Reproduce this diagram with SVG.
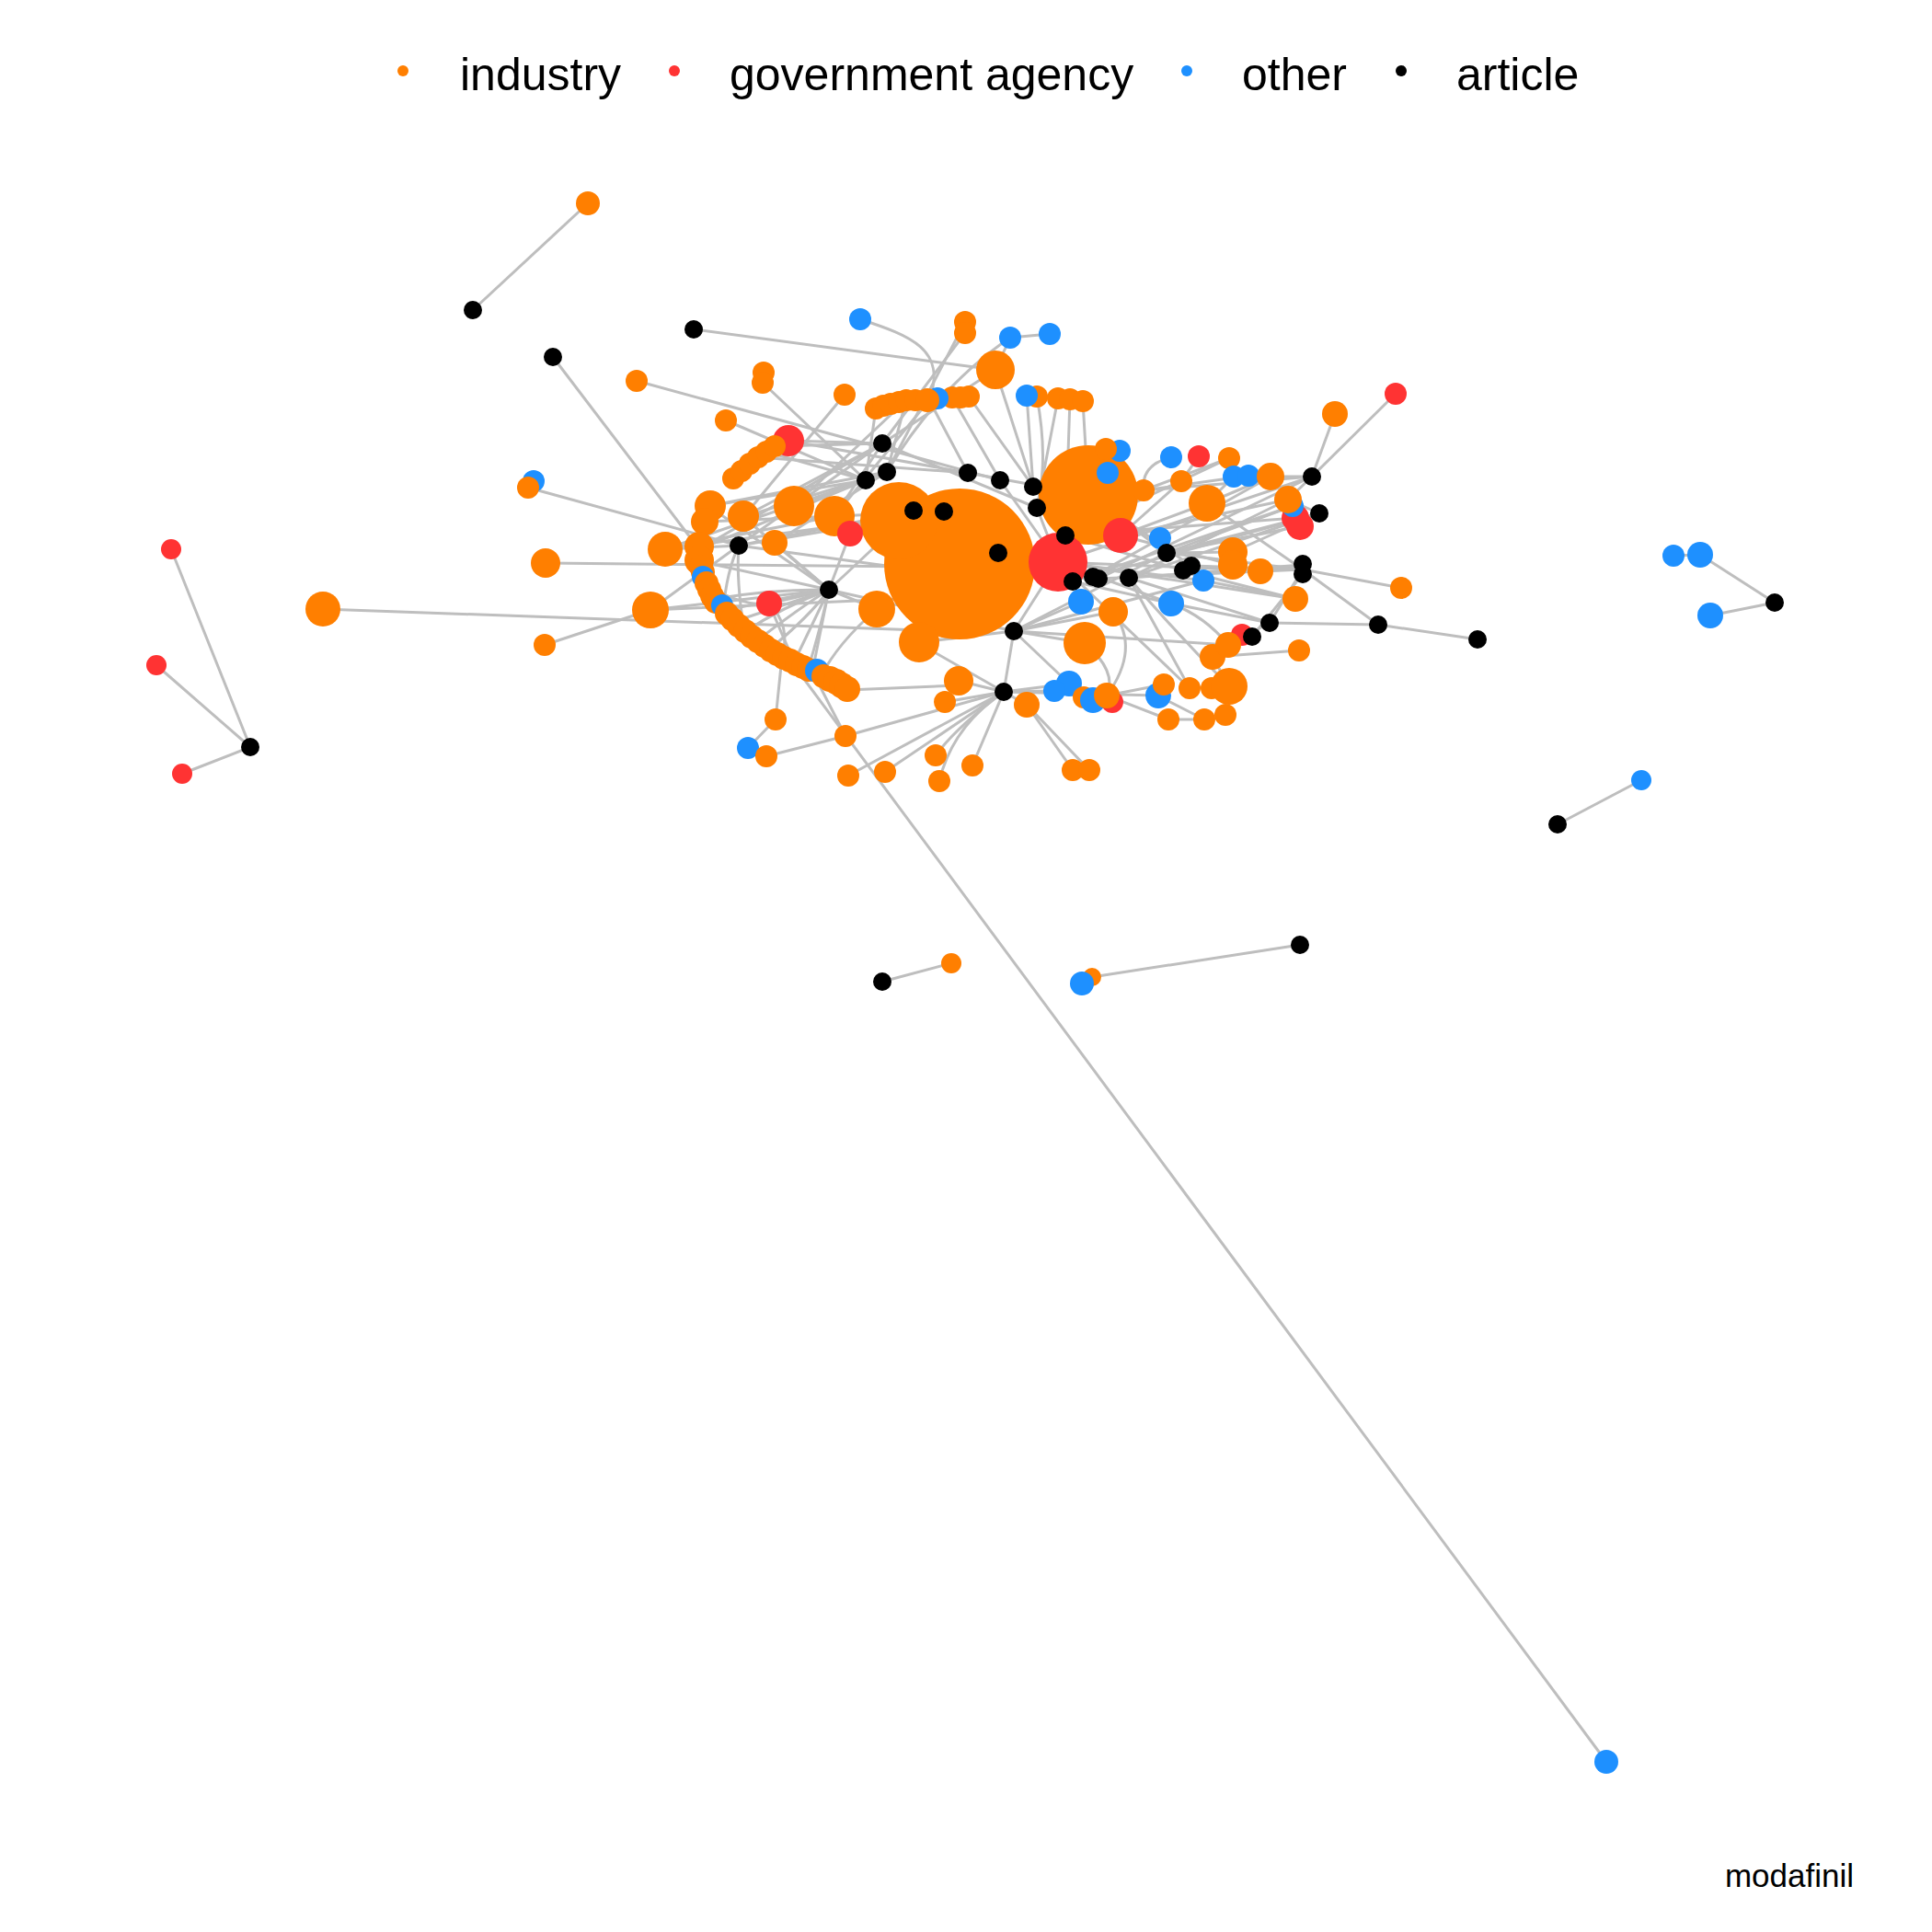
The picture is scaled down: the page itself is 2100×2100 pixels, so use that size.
<svg xmlns="http://www.w3.org/2000/svg" width="2100" height="2100" viewBox="0 0 2100 2100">
<style>
.e path{stroke:#bebebe;stroke-width:3;fill:none;stroke-linecap:round}
.ind{fill:#ff7f00}.gov{fill:#ff3333}.oth{fill:#1e90ff}.art{fill:#000}
text{font-family:"Liberation Sans",Arial,sans-serif;fill:#000}
.lg{font-size:50px}
</style>
<rect width="2100" height="2100" fill="#fff"/>
<g id="legend">
<circle cx="438" cy="77" r="6" class="ind"/><text class="lg" x="500" y="98">industry</text>
<circle cx="733" cy="77" r="6" class="gov"/><text class="lg" x="793" y="98">government agency</text>
<circle cx="1290" cy="77" r="6" class="oth"/><text class="lg" x="1350" y="98">other</text>
<circle cx="1523" cy="77" r="6" class="art"/><text class="lg" x="1583" y="98">article</text>
</g>
<g id="edges" class="e">
<path d="M639,221L514,337"/><path d="M186,597L272,812"/><path d="M170,723L272,812"/><path d="M198,841L272,812"/>
<path d="M1819,604L1848,603"/><path d="M1848,603L1929,655"/><path d="M1859,669L1929,655"/><path d="M1784,848L1693,896"/>
<path d="M1034,1047L959,1067"/><path d="M1413,1027L1187,1062"/><path d="M1746,1915L862,722"/>
<path d="M601,388L760,597"/><path d="M351,662L1000,685"/><path d="M593,612L1000,616"/><path d="M592,701L707,663"/>
<path d="M574,530L803,593"/><path d="M754,358L1082,402"/><path d="M692,414L1087,522"/><path d="M789,457L941,522"/>
<path d="M829,416L941,522"/><path d="M918,429L808,562"/><path d="M1517,428L1426,518"/><path d="M1451,450L1426,518"/>
<path d="M1416,619L1523,639"/><path d="M1416,619L1498,679"/><path d="M1380,677L1498,679"/><path d="M1498,679L1606,695"/>
<path d="M935,347C990,365 1030,380 1010,435"/><path d="M1049,362L959,482"/><path d="M1049,350L964,513"/>
<path d="M1098,367L1141,363"/><path d="M1098,367L1082,402"/><path d="M1098,367Q1020,420 964,513"/>
<path d="M1082,402L959,482"/><path d="M1116,430L1123,529"/><path d="M1127,431Q1140,500 1127,552"/>
<path d="M1010,435L1052,514"/><path d="M1035,432L1087,522"/><path d="M1053,431L1123,529"/><path d="M985,435L964,513"/>
<path d="M952,444L941,522"/><path d="M1150,433L1127,552"/><path d="M1163,434L1158,582"/><path d="M1177,436L1183,538"/>
<path d="M842,485L959,482"/><path d="M833,491L941,522"/><path d="M824,497L1052,514"/><path d="M857,479L1052,514"/>
<path d="M863,550L959,482"/><path d="M907,561L959,482"/><path d="M857,479L959,482"/><path d="M1082,402L1123,529"/>
<path d="M863,550L964,513"/><path d="M808,562L964,513"/><path d="M770,550L964,513"/><path d="M770,550L941,522"/>
<path d="M863,550L941,522"/><path d="M723,597L941,522"/><path d="M1052,514L1183,538"/><path d="M1087,522L1150,611"/>
<path d="M1123,529L1183,538"/><path d="M1127,552L1150,611"/><path d="M1127,552L959,482"/><path d="M863,550L985,435"/>
<path d="M907,561L1010,435"/>
<path d="M723,597L803,593"/><path d="M707,663L803,593"/><path d="M707,663L901,641"/><path d="M760,597L941,522"/>
<path d="M760,597L959,482"/><path d="M770,550L901,641"/><path d="M808,562L959,482"/><path d="M808,562L901,641"/>
<path d="M842,590L901,641"/><path d="M842,590L964,513"/><path d="M803,593L863,550"/><path d="M803,593L1000,620"/>
<path d="M836,656L901,641"/><path d="M953,662L901,641"/><path d="M901,641L862,722"/><path d="M901,641L924,580"/>
<path d="M901,641L883,730"/><path d="M901,641L1102,686"/><path d="M901,641L993,555"/><path d="M803,593L993,555"/>
<path d="M803,593L1026,556"/><path d="M723,597L1026,556"/><path d="M707,663L1000,650"/><path d="M760,610L901,641"/>
<path d="M768,567L1026,556"/><path d="M723,597L907,561"/>
<path d="M776,651Q840,640 901,641"/><path d="M786,664Q850,650 901,641"/><path d="M797,676Q860,655 901,641"/>
<path d="M809,687Q850,660 901,641"/><path d="M822,697Q870,660 901,641"/><path d="M836,706Q880,670 901,641"/>
<path d="M850,714Q860,680 836,656"/><path d="M864,721Q850,690 836,656"/><path d="M769,637Q810,660 836,656"/>
<path d="M878,728Q890,690 901,641"/><path d="M893,734Q910,700 953,662"/><path d="M921,750L1042,745"/>
<path d="M786,664Q790,620 803,593"/><path d="M809,687Q800,630 803,593"/>
<path d="M850,714L843,782"/><path d="M843,782L813,813"/><path d="M833,822L919,800"/><path d="M919,800L1091,752"/>
<path d="M919,800L883,730"/><path d="M962,839L1091,752"/><path d="M1017,821Q1040,790 1091,752"/><path d="M1021,849Q1035,790 1091,752"/>
<path d="M1057,832L1091,752"/><path d="M922,843L1091,752"/><path d="M1027,763L1091,752"/><path d="M1042,740L1091,752"/>
<path d="M1091,752L1116,766"/><path d="M1091,752L1146,751"/><path d="M1091,752L1162,743"/><path d="M1091,752L1102,686"/>
<path d="M1091,752L1000,700"/><path d="M1091,752L1259,756"/><path d="M1116,766L1166,837"/><path d="M1116,766L1184,837"/>
<path d="M1102,686L1179,699"/><path d="M1102,686L1210,665"/><path d="M1102,686L1335,701"/><path d="M1102,686L1162,743"/>
<path d="M1102,686L1000,698"/><path d="M1102,686L1150,611"/><path d="M1210,665Q1240,705 1203,756"/><path d="M1179,699Q1215,730 1203,756"/>
<path d="M1227,628Q1280,690 1336,746"/><path d="M1227,628L1293,748"/><path d="M1203,756L1270,782"/><path d="M1203,756L1265,744"/>
<path d="M1309,782L1270,782"/><path d="M1309,782L1332,777"/><path d="M1268,601L1340,600"/><path d="M1268,601L1405,550"/>
<path d="M1268,601L1416,619"/><path d="M1295,615L1370,620"/><path d="M1295,615L1416,619"/><path d="M1286,620L1408,651"/>
<path d="M1308,631L1408,651"/><path d="M1273,656L1380,677"/><path d="M1273,656Q1310,670 1335,701"/><path d="M1380,677L1416,619"/>
<path d="M1361,692L1416,624"/><path d="M1412,707L1318,714"/><path d="M1336,746L1318,714"/><path d="M1380,677L1335,701"/>
<path d="M1102,686L1175,654"/><path d="M1146,751L1178,758"/><path d="M1258,756L1309,782"/>
<path d="M1273,497Q1240,505 1243,533"/><path d="M1303,496L1284,523"/><path d="M1284,523L1218,582"/><path d="M1341,518L1312,547"/>
<path d="M1381,518L1312,547"/><path d="M1400,543L1227,628"/><path d="M1400,543L1218,582"/><path d="M1426,518L1150,611"/>
<path d="M1434,558L1268,601"/><path d="M1413,572L1268,601"/><path d="M1408,563L1158,582"/><path d="M1312,547L1416,619"/>
<path d="M1150,611L1273,656"/><path d="M1150,611L1308,631"/><path d="M1150,611L1370,620"/><path d="M1218,582L1340,614"/>
<path d="M1158,582L1286,620"/><path d="M1166,632L1273,656"/><path d="M1194,629L1416,619"/><path d="M1227,628L1380,677"/>
<path d="M1183,538L1268,601"/><path d="M1183,538L1295,615"/><path d="M1243,533L1336,498"/><path d="M1243,533L1357,517"/>
<path d="M1426,518L1381,518"/><path d="M1434,558L1400,543"/><path d="M1426,518L1400,543"/><path d="M1434,558L1340,600"/>
<path d="M1312,547L1218,582"/><path d="M1150,611L1408,651"/><path d="M1426,518L1194,629"/><path d="M1434,558L1187,627"/>
<path d="M1416,614L1226,628"/>
<path d="M1158,582L1336,498"/><path d="M1187,627L1381,518"/><path d="M1166,632L1405,550"/><path d="M1227,628L1434,558"/>
<path d="M1243,533L1426,518"/><path d="M1102,686L1268,601"/><path d="M1102,686L1308,631"/><path d="M1150,611L1293,748"/>
</g>
<g id="nodes">
<g id="n64" class="ind"><circle cx="1043" cy="613" r="82"/></g>
<g id="n65" class="ind"><circle cx="977" cy="566" r="42"/></g>
<g id="n66" class="ind"><circle cx="999" cy="698" r="22"/></g>
<g id="n76" class="ind"><circle cx="953" cy="662" r="20"/></g>
<g id="n80" class="ind"><circle cx="1183" cy="538" r="54"/></g>
<g id="n1" class="ind"><circle cx="639" cy="221" r="13"/></g>
<g id="n4" class="gov"><circle cx="186" cy="597" r="11"/></g>
<g id="n5" class="gov"><circle cx="170" cy="723" r="11"/></g>
<g id="n6" class="gov"><circle cx="198" cy="841" r="11"/></g>
<g id="n8" class="ind"><circle cx="351" cy="662" r="19"/></g>
<g id="n9" class="oth"><circle cx="1819" cy="604" r="12"/></g>
<g id="n10" class="oth"><circle cx="1848" cy="603" r="14"/></g>
<g id="n11" class="oth"><circle cx="1859" cy="669" r="14"/></g>
<g id="n13" class="oth"><circle cx="1784" cy="848" r="11"/></g>
<g id="n15" class="ind"><circle cx="1034" cy="1047" r="11"/></g>
<g id="n18" class="ind"><circle cx="1187" cy="1062" r="10"/></g>
<g id="n19" class="oth"><circle cx="1176" cy="1069" r="13"/></g>
<g id="n20" class="oth"><circle cx="1746" cy="1915" r="13"/></g>
<g id="n22" class="oth"><circle cx="935" cy="347" r="12"/></g>
<g id="n23" class="ind"><circle cx="1049" cy="350" r="12"/></g>
<g id="n24" class="ind"><circle cx="1049" cy="362" r="12"/></g>
<g id="n25" class="oth"><circle cx="1098" cy="367" r="12"/></g>
<g id="n26" class="oth"><circle cx="1141" cy="363" r="12"/></g>
<g id="n27" class="ind"><circle cx="1082" cy="402" r="21"/></g>
<g id="n28" class="ind"><circle cx="1127" cy="431" r="12"/></g>
<g id="n29" class="oth"><circle cx="1116" cy="430" r="12"/></g>
<g id="n30" class="ind"><circle cx="1150" cy="433" r="12"/></g>
<g id="n31" class="ind"><circle cx="1163" cy="434" r="12"/></g>
<g id="n32" class="ind"><circle cx="1177" cy="436" r="12"/></g>
<g id="n33" class="ind"><circle cx="692" cy="414" r="12"/></g>
<g id="n34" class="ind"><circle cx="830" cy="405" r="12"/></g>
<g id="n35" class="ind"><circle cx="829" cy="416" r="12"/></g>
<g id="n36" class="ind"><circle cx="918" cy="429" r="12"/></g>
<g id="n37" class="ind"><circle cx="952" cy="444" r="12"/></g>
<g id="n37b" class="ind"><circle cx="960" cy="441" r="12"/></g>
<g id="n38" class="ind"><circle cx="968" cy="439" r="12"/></g>
<g id="n38b" class="ind"><circle cx="977" cy="437" r="12"/></g>
<g id="n39" class="ind"><circle cx="985" cy="435" r="12"/></g>
<g id="n39b" class="ind"><circle cx="995" cy="435" r="12"/></g>
<g id="n42" class="ind"><circle cx="1035" cy="432" r="12"/></g>
<g id="n43" class="ind"><circle cx="1053" cy="431" r="12"/></g>
<g id="n43b" class="ind"><circle cx="1044" cy="432" r="12"/></g>
<g id="n41" class="oth"><circle cx="1019" cy="433" r="12"/></g>
<g id="n40" class="ind"><circle cx="1008" cy="435" r="13"/></g>
<g id="n44" class="ind"><circle cx="789" cy="457" r="12"/></g>
<g id="n45" class="gov"><circle cx="857" cy="479" r="17"/></g>
<g id="n46" class="ind"><circle cx="797" cy="520" r="12"/></g>
<g id="n47" class="ind"><circle cx="806" cy="512" r="12"/></g>
<g id="n48" class="ind"><circle cx="815" cy="504" r="12"/></g>
<g id="n49" class="ind"><circle cx="824" cy="497" r="12"/></g>
<g id="n50" class="ind"><circle cx="833" cy="491" r="12"/></g>
<g id="n51" class="ind"><circle cx="842" cy="485" r="12"/></g>
<g id="n59" class="ind"><circle cx="772" cy="550" r="17"/></g>
<g id="n60" class="ind"><circle cx="766" cy="567" r="15"/></g>
<g id="n61" class="ind"><circle cx="808" cy="561" r="17"/></g>
<g id="n62" class="ind"><circle cx="863" cy="550" r="22"/></g>
<g id="n63" class="ind"><circle cx="907" cy="561" r="22"/></g>
<g id="n67" class="gov"><circle cx="924" cy="580" r="14"/></g>
<g id="n72" class="ind"><circle cx="723" cy="597" r="19"/></g>
<g id="n73" class="ind"><circle cx="760" cy="594" r="16"/></g>
<g id="n74" class="ind"><circle cx="760" cy="609" r="16"/></g>
<g id="n75" class="ind"><circle cx="842" cy="590" r="14"/></g>
<g id="n77" class="gov"><circle cx="836" cy="656" r="14"/></g>
<g id="n79" class="ind"><circle cx="707" cy="663" r="20"/></g>
<g id="arc1" class="ind"><circle cx="762" cy="616" r="13"/></g>
<g id="arc2" class="ind"><circle cx="764" cy="622" r="13"/></g>
<g id="arcb1" class="oth"><circle cx="764" cy="627" r="12"/></g>
<g id="arc3" class="ind"><circle cx="768" cy="634" r="13"/></g>
<g id="arc4" class="ind"><circle cx="771" cy="641" r="13"/></g>
<g id="arc5" class="ind"><circle cx="774" cy="648" r="13"/></g>
<g id="arc6" class="ind"><circle cx="778" cy="654" r="13"/></g>
<g id="arcb2" class="oth"><circle cx="785" cy="658" r="12"/></g>
<g id="arc7" class="ind"><circle cx="790" cy="667" r="13"/></g>
<g id="arc8" class="ind"><circle cx="796" cy="673" r="13"/></g>
<g id="arc9" class="ind"><circle cx="803" cy="680" r="13"/></g>
<g id="arc10" class="ind"><circle cx="810" cy="686" r="13"/></g>
<g id="arc11" class="ind"><circle cx="817" cy="692" r="13"/></g>
<g id="arc12" class="ind"><circle cx="824" cy="697" r="13"/></g>
<g id="arc13" class="ind"><circle cx="831" cy="702" r="13"/></g>
<g id="arc14" class="ind"><circle cx="838" cy="707" r="13"/></g>
<g id="arc15" class="ind"><circle cx="845" cy="711" r="13"/></g>
<g id="arc16" class="ind"><circle cx="852" cy="715" r="13"/></g>
<g id="arc17" class="ind"><circle cx="859" cy="718" r="13"/></g>
<g id="arc18" class="ind"><circle cx="866" cy="722" r="13"/></g>
<g id="arc19" class="ind"><circle cx="873" cy="725" r="13"/></g>
<g id="arc20" class="ind"><circle cx="879" cy="728" r="13"/></g>
<g id="arcb3" class="oth"><circle cx="888" cy="729" r="13"/></g>
<g id="arc21" class="ind"><circle cx="895" cy="735" r="13"/></g>
<g id="arc22" class="ind"><circle cx="902" cy="738" r="14"/></g>
<g id="arc23" class="ind"><circle cx="909" cy="741" r="14"/></g>
<g id="arc24" class="ind"><circle cx="915" cy="745" r="14"/></g>
<g id="arc25" class="ind"><circle cx="921" cy="749" r="14"/></g>
<g id="n82" class="oth"><circle cx="1217" cy="490" r="12"/></g>
<g id="n81" class="ind"><circle cx="1202" cy="488" r="12"/></g>
<g id="n83" class="oth"><circle cx="1204" cy="514" r="12"/></g>
<g id="n84" class="ind"><circle cx="1243" cy="533" r="12"/></g>
<g id="n85" class="gov"><circle cx="1218" cy="582" r="19"/></g>
<g id="n86" class="gov"><circle cx="1150" cy="611" r="32"/></g>
<g id="n93" class="oth"><circle cx="1175" cy="654" r="14"/></g>
<g id="n94" class="ind"><circle cx="1210" cy="665" r="16"/></g>
<g id="n95" class="ind"><circle cx="1179" cy="699" r="23"/></g>
<g id="n96" class="ind"><circle cx="1042" cy="740" r="16"/></g>
<g id="n97" class="ind"><circle cx="1027" cy="763" r="12"/></g>
<g id="n99" class="oth"><circle cx="1162" cy="743" r="14"/></g>
<g id="n100" class="oth"><circle cx="1146" cy="751" r="12"/></g>
<g id="n101" class="ind"><circle cx="1116" cy="766" r="14"/></g>
<g id="n102" class="ind"><circle cx="1178" cy="758" r="12"/></g>
<g id="n103" class="oth"><circle cx="1188" cy="761" r="14"/></g>
<g id="n104" class="gov"><circle cx="1209" cy="763" r="12"/></g>
<g id="n105" class="ind"><circle cx="1203" cy="756" r="14"/></g>
<g id="n106" class="ind"><circle cx="1166" cy="837" r="12"/></g>
<g id="n107" class="ind"><circle cx="1184" cy="837" r="12"/></g>
<g id="n108" class="oth"><circle cx="1259" cy="756" r="14"/></g>
<g id="n109" class="ind"><circle cx="1265" cy="744" r="12"/></g>
<g id="n110" class="ind"><circle cx="1293" cy="748" r="12"/></g>
<g id="n111" class="ind"><circle cx="1317" cy="748" r="12"/></g>
<g id="n112" class="ind"><circle cx="1336" cy="746" r="20"/></g>
<g id="n113" class="ind"><circle cx="1270" cy="782" r="12"/></g>
<g id="n114" class="ind"><circle cx="1309" cy="782" r="12"/></g>
<g id="n115" class="ind"><circle cx="1332" cy="777" r="12"/></g>
<g id="n118" class="gov"><circle cx="1350" cy="690" r="12"/></g>
<g id="n116" class="ind"><circle cx="1318" cy="714" r="14"/></g>
<g id="n117" class="ind"><circle cx="1335" cy="701" r="14"/></g>
<g id="n121" class="ind"><circle cx="1412" cy="707" r="12"/></g>
<g id="n122" class="ind"><circle cx="1408" cy="651" r="14"/></g>
<g id="n123" class="ind"><circle cx="1523" cy="639" r="12"/></g>
<g id="n128" class="ind"><circle cx="1340" cy="600" r="16"/></g>
<g id="n129" class="ind"><circle cx="1340" cy="614" r="16"/></g>
<g id="n130" class="ind"><circle cx="1370" cy="621" r="14"/></g>
<g id="n131" class="oth"><circle cx="1308" cy="631" r="12"/></g>
<g id="n134" class="oth"><circle cx="1273" cy="656" r="14"/></g>
<g id="n136" class="oth"><circle cx="1261" cy="585" r="12"/></g>
<g id="n137" class="ind"><circle cx="1312" cy="547" r="20"/></g>
<g id="n138" class="oth"><circle cx="1273" cy="497" r="12"/></g>
<g id="n139" class="gov"><circle cx="1303" cy="496" r="12"/></g>
<g id="n140" class="ind"><circle cx="1336" cy="498" r="12"/></g>
<g id="n141" class="ind"><circle cx="1284" cy="523" r="12"/></g>
<g id="n142" class="oth"><circle cx="1341" cy="518" r="12"/></g>
<g id="n143" class="oth"><circle cx="1357" cy="517" r="12"/></g>
<g id="n144" class="ind"><circle cx="1381" cy="518" r="15"/></g>
<g id="n147" class="gov"><circle cx="1408" cy="563" r="15"/></g>
<g id="n148" class="gov"><circle cx="1413" cy="572" r="15"/></g>
<g id="n145" class="oth"><circle cx="1405" cy="550" r="12"/></g>
<g id="n146" class="ind"><circle cx="1400" cy="543" r="15"/></g>
<g id="n151" class="ind"><circle cx="1451" cy="450" r="14"/></g>
<g id="n152" class="gov"><circle cx="1517" cy="428" r="12"/></g>
<g id="n153" class="ind"><circle cx="843" cy="782" r="12"/></g>
<g id="n154" class="oth"><circle cx="813" cy="813" r="12"/></g>
<g id="n155" class="ind"><circle cx="833" cy="822" r="12"/></g>
<g id="n156" class="ind"><circle cx="919" cy="800" r="12"/></g>
<g id="n157" class="ind"><circle cx="922" cy="843" r="12"/></g>
<g id="n158" class="ind"><circle cx="962" cy="839" r="12"/></g>
<g id="n159" class="ind"><circle cx="1017" cy="821" r="12"/></g>
<g id="n160" class="ind"><circle cx="1021" cy="849" r="12"/></g>
<g id="n161" class="ind"><circle cx="1057" cy="832" r="12"/></g>
<g id="n162" class="ind"><circle cx="593" cy="612" r="16"/></g>
<g id="n163" class="ind"><circle cx="592" cy="701" r="12"/></g>
<g id="n164" class="oth"><circle cx="580" cy="523" r="12"/></g>
<g id="n165" class="ind"><circle cx="574" cy="530" r="12"/></g>
<g id="n2" class="art"><circle cx="514" cy="337" r="10"/></g>
<g id="n3" class="art"><circle cx="601" cy="388" r="10"/></g>
<g id="n7" class="art"><circle cx="272" cy="812" r="10"/></g>
<g id="n12" class="art"><circle cx="1929" cy="655" r="10"/></g>
<g id="n14" class="art"><circle cx="1693" cy="896" r="10"/></g>
<g id="n16" class="art"><circle cx="959" cy="1067" r="10"/></g>
<g id="n17" class="art"><circle cx="1413" cy="1027" r="10"/></g>
<g id="n21" class="art"><circle cx="754" cy="358" r="10"/></g>
<g id="n52" class="art"><circle cx="959" cy="482" r="10"/></g>
<g id="n53" class="art"><circle cx="964" cy="513" r="10"/></g>
<g id="n54" class="art"><circle cx="941" cy="522" r="10"/></g>
<g id="n55" class="art"><circle cx="1052" cy="514" r="10"/></g>
<g id="n56" class="art"><circle cx="1087" cy="522" r="10"/></g>
<g id="n57" class="art"><circle cx="1123" cy="529" r="10"/></g>
<g id="n58" class="art"><circle cx="1127" cy="552" r="10"/></g>
<g id="n68" class="art"><circle cx="993" cy="555" r="10"/></g>
<g id="n69" class="art"><circle cx="1026" cy="556" r="10"/></g>
<g id="n70" class="art"><circle cx="1085" cy="601" r="10"/></g>
<g id="n71" class="art"><circle cx="803" cy="593" r="10"/></g>
<g id="n78" class="art"><circle cx="901" cy="641" r="10"/></g>
<g id="n87" class="art"><circle cx="1158" cy="582" r="10"/></g>
<g id="n88" class="art"><circle cx="1166" cy="632" r="10"/></g>
<g id="n89" class="art"><circle cx="1188" cy="627" r="10"/></g>
<g id="n90" class="art"><circle cx="1194" cy="629" r="10"/></g>
<g id="n91" class="art"><circle cx="1227" cy="628" r="10"/></g>
<g id="n92" class="art"><circle cx="1102" cy="686" r="10"/></g>
<g id="n98" class="art"><circle cx="1091" cy="752" r="10"/></g>
<g id="n119" class="art"><circle cx="1361" cy="692" r="10"/></g>
<g id="n120" class="art"><circle cx="1380" cy="677" r="10"/></g>
<g id="n124" class="art"><circle cx="1498" cy="679" r="10"/></g>
<g id="n125" class="art"><circle cx="1606" cy="695" r="10"/></g>
<g id="n126" class="art"><circle cx="1416" cy="613" r="10"/></g>
<g id="n127" class="art"><circle cx="1416" cy="624" r="10"/></g>
<g id="n132" class="art"><circle cx="1286" cy="620" r="10"/></g>
<g id="n133" class="art"><circle cx="1295" cy="615" r="10"/></g>
<g id="n135" class="art"><circle cx="1268" cy="601" r="10"/></g>
<g id="n149" class="art"><circle cx="1426" cy="518" r="10"/></g>
<g id="n150" class="art"><circle cx="1434" cy="558" r="10"/></g>
</g>
<text id="caption" x="2015" y="2051" font-size="35" text-anchor="end">modafinil</text>
</svg>
